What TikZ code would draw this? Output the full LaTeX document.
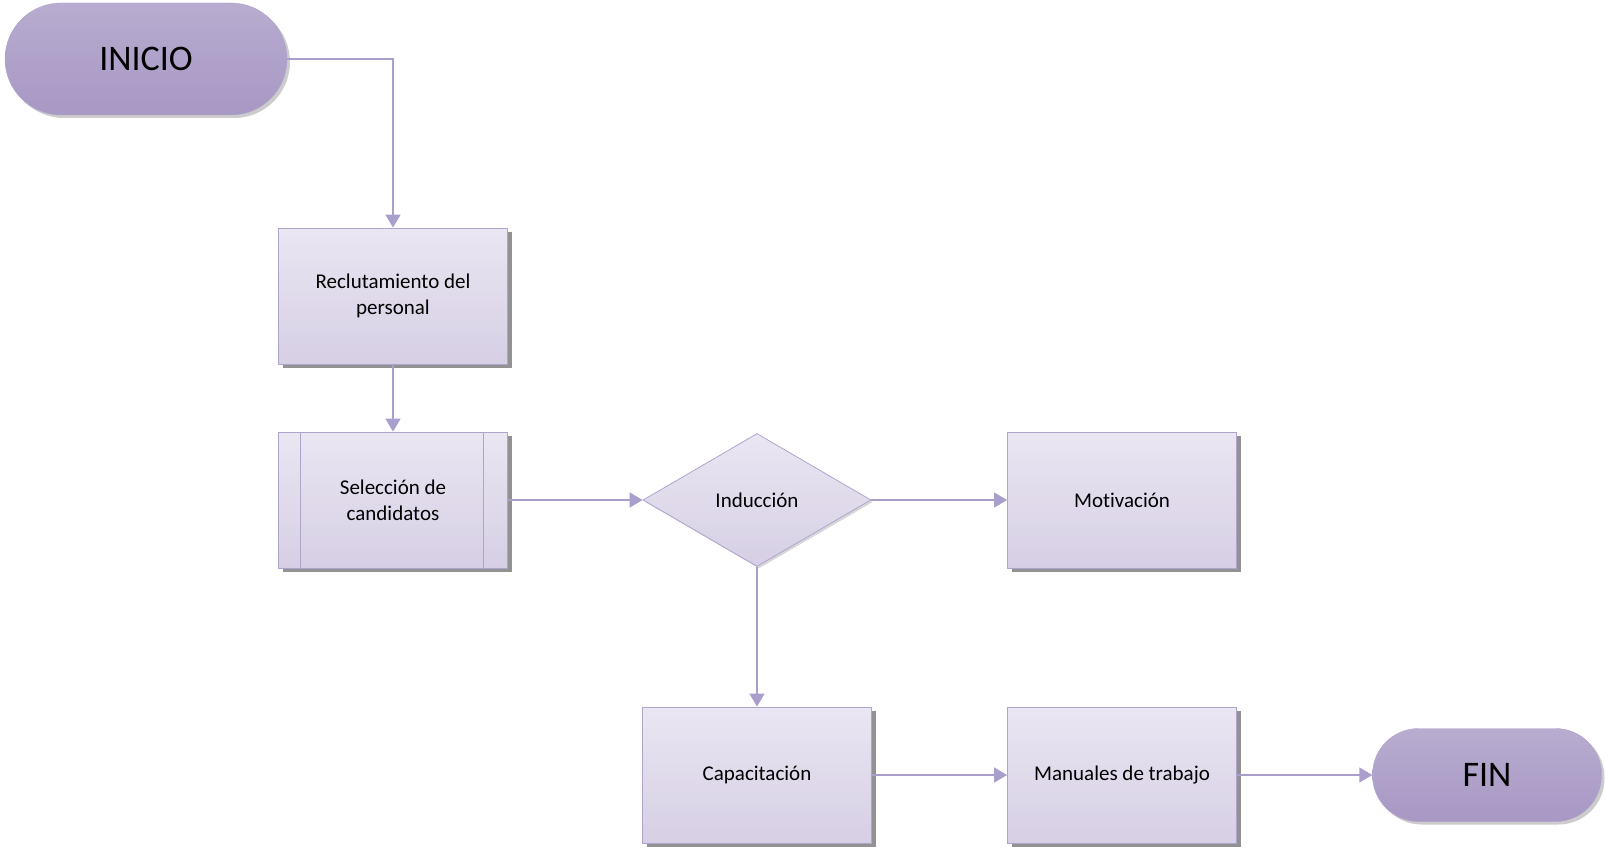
\documentclass[tikz,border=0pt]{standalone}
\usepackage{fontspec}
\setmainfont{Carlito}[Ligatures=NoCommon]
\usetikzlibrary{shapes.geometric,shadows,arrows.meta}

\definecolor{lineborder}{RGB}{176,164,204}
\definecolor{linkcol}{RGB}{170,158,204}
\definecolor{termtop}{RGB}{184,172,208}
\definecolor{termbot}{RGB}{167,152,196}
\definecolor{boxtop}{RGB}{234,230,242}
\definecolor{boxbot}{RGB}{214,207,229}

\tikzset{
	terminal/.style={rectangle,rounded corners=46pt,draw=lineborder,
		top color=termtop,bottom color=termbot,
		minimum width=229pt,minimum height=93pt,
		font=\fontsize{36}{40}\selectfont,
		drop shadow={shadow xshift=3pt,shadow yshift=-3pt,fill=black!40}},
	process/.style={rectangle,draw=lineborder,line width=0.8pt,
		top color=boxtop,bottom color=boxbot,
		minimum width=229pt,minimum height=136pt,align=center,
		font=\fontsize{21}{26}\selectfont,
		drop shadow={shadow xshift=4pt,shadow yshift=-4pt,fill=black!85}},
	decision/.style={diamond,draw=lineborder,line width=0.8pt,inner sep=0pt,
		top color=boxtop,bottom color=boxbot,
		minimum width=228pt,minimum height=133pt,
		font=\fontsize{21}{26}\selectfont,
		drop shadow={shadow xshift=2pt,shadow yshift=-2pt,fill=black!30}},
	link/.style={draw=linkcol,line width=1.5pt,
		-{Triangle[length=13pt,width=15pt]}}
}

\begin{document}
\begin{tikzpicture}[x=1pt,y=-1pt]
	\useasboundingbox (0,0) rectangle (1605,848);

	\node[terminal,minimum width=282pt,minimum height=112pt,rounded corners=56pt] (inicio) at (146,59) {INICIO};
	\node[process] (reclut) at (393,296) {Reclutamiento del\\personal};
	\node[process] (selec) at (393,500) {Selección de\\candidatos};
	\node[decision] (induc) at (757,500) {Inducción};
	\node[process] (motiv) at (1122,500) {Motivación};
	\node[process] (capac) at (757,775) {Capacitación};
	\node[process] (manual) at (1122,775) {Manuales de trabajo};
	\node[terminal] (fin) at (1487,775) {FIN};

	% lineas internas del subproceso
	\draw[lineborder,line width=0.8pt] ([xshift=22pt]selec.north west) -- ([xshift=22pt]selec.south west);
	\draw[lineborder,line width=0.8pt] ([xshift=-25pt]selec.north east) -- ([xshift=-25pt]selec.south east);

	% conectores
	\draw[link] (inicio.east) -| (reclut.north);
	\draw[link] (reclut.south) -- (selec.north);
	\draw[link] (selec.east) -- (induc.west);
	\draw[link] (induc.east) -- (motiv.west);
	\draw[link] (induc.south) -- (capac.north);
	\draw[link] (capac.east) -- (manual.west);
	\draw[link] (manual.east) -- (fin.west);
\end{tikzpicture}
\end{document}
